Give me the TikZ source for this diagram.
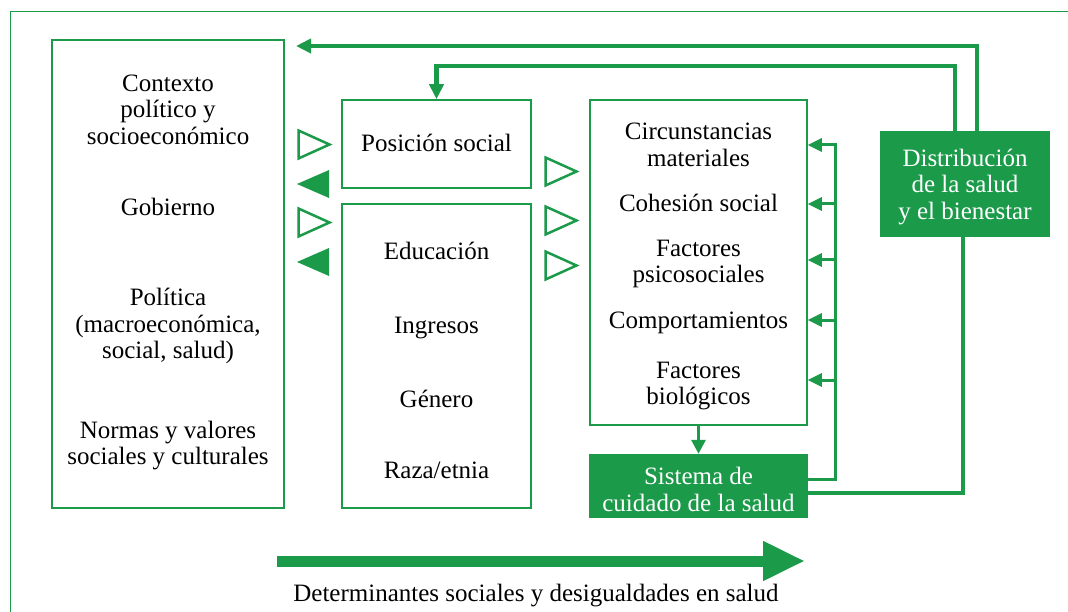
\documentclass[tikz,border=0pt]{standalone}
\usepackage{fontspec}
\setmainfont{Liberation Serif}
\usetikzlibrary{arrows.meta,calc}
\definecolor{verde}{RGB}{27,154,74}
\tikzset{
    caja/.style={draw=verde,line width=1.5pt,inner sep=0pt},
    cajallena/.style={fill=verde,inner sep=0pt},
    texto/.style={font=\fontsize{25}{26.5}\selectfont,align=center,inner sep=0pt,anchor=base,yshift=-1.5pt},
    grueso/.style={draw=verde,line width=4.5pt},
    medio/.style={draw=verde,line width=3pt},
    punta/.style={-{Triangle[length=15pt,width=14pt]}},
    abierto/.style={draw=verde,line width=2.5pt},
    lleno/.style={fill=verde},
  }
\begin{document}
\begin{tikzpicture}[x=1pt,y=-1pt]
	\useasboundingbox (0,0) rectangle (1068,612);
	%MARCO
	\draw[verde,line width=1.5pt] (10.5,612) -- (10.5,11.5) -- (1068,11.5);

	%CAJAS
	\node[caja,minimum width=232,minimum height=468] (ctx) at (168,274) {};
	\node[caja,minimum width=189,minimum height=88] (pos) at (436.5,144) {};
	\node[caja,minimum width=189,minimum height=304] (edu) at (436.5,356) {};
	\node[caja,minimum width=217,minimum height=325] (mid) at (698.5,262.5) {};
	\node[cajallena,minimum width=219,minimum height=64] (sis) at (698.5,486) {};
	\node[cajallena,minimum width=170,minimum height=106] (dist) at (965,184) {};

	%TEXTOS (base = ultima linea)
	\node[texto] (t1) at (168,143) {Contexto\\político y\\socioeconómico};
	\node[texto] (t2) at (168,214) {Gobierno};
	\node[texto] (t3) at (168,357) {Política\\(macroeconómica,\\social, salud)};
	\node[texto] (t4) at (168,463) {Normas y valores\\sociales y culturales};
	\node[texto] (t5) at (436.5,150) {Posición social};
	\node[texto] (t6) at (436.5,258) {Educación};
	\node[texto] (t7) at (436.5,332) {Ingresos};
	\node[texto] (t8) at (436.5,406) {Género};
	\node[texto] (t9) at (436.5,477) {Raza/etnia};
	\node[texto] (t10) at (698.5,165) {Circunstancias\\materiales};
	\node[texto] (t11) at (698.5,210) {Cohesión social};
	\node[texto] (t12) at (698.5,281.5) {Factores\\psicosociales};
	\node[texto] (t13) at (698.5,326.5) {Comportamientos};
	\node[texto] (t14) at (698.5,403) {Factores\\biológicos};
	\node[texto,text=white] (t15) at (698.5,509.5) {Sistema de\\cuidado de la salud};
	\node[texto,text=white] (t16) at (965,218) {Distribución\\de la salud\\y el bienestar};
	\node[texto] (t17) at (536,600) {Determinantes sociales y desigualdades en salud};

	%TRIANGULOS
	\foreach \x/\y in {314/144.5,314/222.5,561/171.5,561/220.5,561/265.5}
	  \draw[abierto] (\x-15.5,\y-14) -- (\x+15.5,\y) -- (\x-15.5,\y+14) -- cycle;
	\foreach \y in {184,262}
	  \fill[lleno] (313+16,\y-14) -- (313-16,\y) -- (313+16,\y+14) -- cycle;

	%FLECHAS
	\coordinate (izq) at (296,46);
	\draw[grueso,punta] ($(dist.north)+(12,0)$) |- (izq);
	\draw[grueso,punta] ($(dist.north)+(-10,0)$) |- ($(pos.north)+(0,-33)$) -- (pos.north);
	\draw[grueso] ($(sis.east)+(0,7)$) -| ($(dist.south)+(-2,0)$);
	\coordinate (bus) at (835,145);
	\draw[medio] ($(sis.east)+(0,-7)$) -| (bus);
	\foreach \y in {145,204,260,320,380}{
	  \coordinate (r\y) at (837,\y);
	  \draw[medio,-{Triangle[length=14pt,width=13pt]}] (r\y) -- (r\y -| mid.east);
	}
	\draw[medio,-{Triangle[length=14pt,width=14pt]}] (mid.south) -- (sis.north);

	%DETERMINANTES
	\coordinate (ini) at (277,561);
	\coordinate (fin) at (805,561);
	\draw[verde,line width=11pt,-{Triangle[length=42pt,width=37pt]}] (ini) -- (fin);
\end{tikzpicture}
\end{document}
